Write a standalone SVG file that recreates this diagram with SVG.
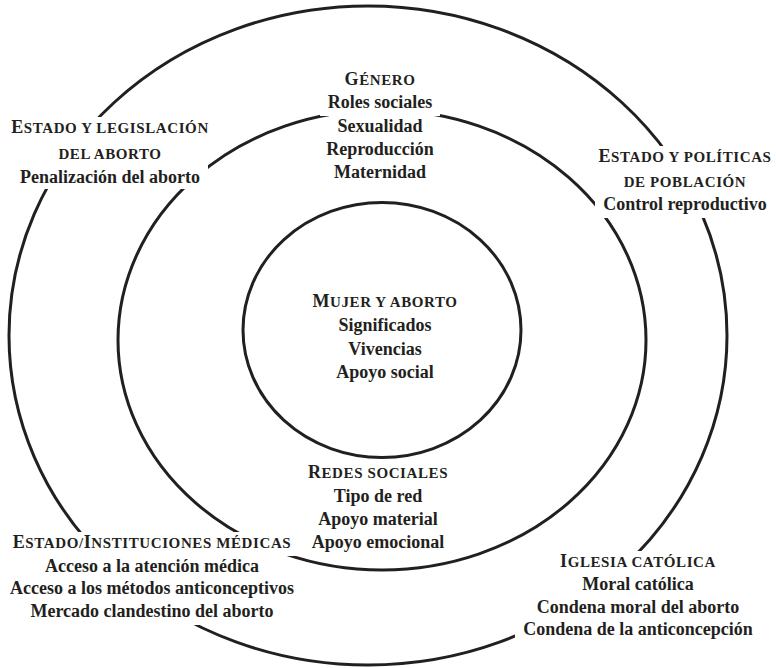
<svg xmlns="http://www.w3.org/2000/svg" width="776" height="668" viewBox="0 0 776 668">
<style>
.ring{fill:none;stroke:#231f20;stroke-width:3}
.bg{fill:#fff}
text{font-family:"Liberation Serif","Times New Roman",serif;font-weight:bold;font-size:18px;fill:#231f20;text-anchor:middle}
.t{letter-spacing:0.6px}
.sc{font-size:15px}
</style>
<rect width="776" height="668" fill="#fff"/>
<g id="connectors">
<ellipse class="ring" cx="368" cy="335.5" rx="359" ry="329.5"/>
<ellipse class="ring" cx="382" cy="340" rx="264" ry="230"/>
<ellipse class="ring" cx="382" cy="330" rx="139" ry="127.5"/>
</g>
<g id="estado-legislacion">
<rect class="bg" x="1" y="117" width="218" height="24"/>
<rect class="bg" x="51" y="141" width="118" height="24"/>
<rect class="bg" x="12" y="165" width="196" height="24"/>
<text class="t" x="110" y="133">E<tspan class="sc">STADO Y LEGISLACIÓN</tspan></text>
<text class="t" x="110" y="159"><tspan class="sc">DEL ABORTO</tspan></text>
<text x="110" y="183">Penalización del aborto</text>
</g>
<g id="genero">
<rect class="bg" x="335" y="69" width="90" height="24"/>
<rect class="bg" x="320" y="92" width="120" height="24"/>
<rect class="bg" x="329" y="116" width="102" height="24"/>
<rect class="bg" x="318" y="139" width="124" height="24"/>
<rect class="bg" x="326" y="162" width="108" height="24"/>
<text class="t" x="380" y="85">G<tspan class="sc">ÉNERO</tspan></text>
<text x="380" y="108">Roles sociales</text>
<text x="380" y="132">Sexualidad</text>
<text x="380" y="155">Reproducción</text>
<text x="380" y="178">Maternidad</text>
</g>
<g id="estado-politicas">
<rect class="bg" x="589" y="146" width="192" height="24"/>
<rect class="bg" x="615" y="170" width="140" height="24"/>
<rect class="bg" x="595" y="194" width="180" height="24"/>
<text class="t" x="685" y="162">E<tspan class="sc">STADO Y POLÍTICAS</tspan></text>
<text class="t" x="685" y="187"><tspan class="sc">DE POBLACIÓN</tspan></text>
<text x="685" y="210">Control reproductivo</text>
</g>
<g id="mujer-aborto">
<text class="t" x="385" y="307">M<tspan class="sc">UJER Y ABORTO</tspan></text>
<text x="385" y="331">Significados</text>
<text x="385" y="355">Vivencias</text>
<text x="385" y="378">Apoyo social</text>
</g>
<g id="redes-sociales">
<rect class="bg" x="300" y="462" width="157" height="24"/>
<rect class="bg" x="325" y="486" width="106" height="24"/>
<rect class="bg" x="310" y="509" width="136" height="24"/>
<rect class="bg" x="304" y="532" width="148" height="24"/>
<text class="t" x="378" y="478">R<tspan class="sc">EDES SOCIALES</tspan></text>
<text x="378" y="502">Tipo de red</text>
<text x="378" y="525">Apoyo material</text>
<text x="378" y="548">Apoyo emocional</text>
</g>
<g id="estado-instituciones">
<rect class="bg" x="1" y="532" width="302" height="24"/>
<rect class="bg" x="37" y="556" width="230" height="24"/>
<rect class="bg" x="2" y="578" width="300" height="24"/>
<rect class="bg" x="22" y="601" width="260" height="24"/>
<text class="t" x="152" y="548">E<tspan class="sc">STADO/</tspan>I<tspan class="sc">NSTITUCIONES MÉDICAS</tspan></text>
<text x="152" y="572">Acceso a la atención médica</text>
<text x="152" y="594">Acceso a los métodos anticonceptivos</text>
<text x="152" y="617">Mercado clandestino del aborto</text>
</g>
<g id="iglesia">
<rect class="bg" x="551" y="551" width="174" height="24"/>
<rect class="bg" x="574" y="574" width="128" height="24"/>
<rect class="bg" x="529" y="597" width="218" height="24"/>
<rect class="bg" x="515" y="619" width="246" height="24"/>
<text class="t" x="638" y="567">I<tspan class="sc">GLESIA CATÓLICA</tspan></text>
<text x="638" y="590">Moral católica</text>
<text x="638" y="613">Condena moral del aborto</text>
<text x="638" y="635">Condena de la anticoncepción</text>
</g>
</svg>
